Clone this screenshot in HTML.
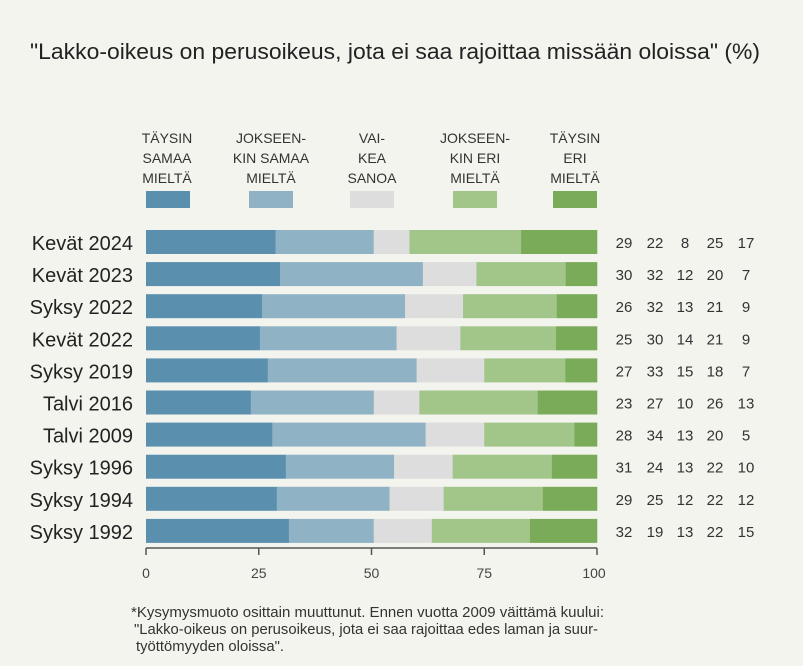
<!DOCTYPE html><html><head><meta charset="utf-8"><style>body{margin:0;background:#f4f4ef}svg{display:block;font-family:"Liberation Sans",sans-serif}</style></head><body>
<svg width="803" height="666" viewBox="0 0 803 666">
<rect width="803" height="666" fill="#f4f4ef"/>
<text x="30" y="59" font-size="22" textLength="730" lengthAdjust="spacingAndGlyphs" fill="#222">"Lakko-oikeus on perusoikeus, jota ei saa rajoittaa missään oloissa" (%)</text>
<g font-size="14" fill="#333" text-anchor="middle">
<text x="167" y="143">TÄYSIN</text><text x="167" y="163">SAMAA</text><text x="167" y="183">MIELTÄ</text>
<text x="271" y="143">JOKSEEN-</text><text x="271" y="163">KIN SAMAA</text><text x="271" y="183">MIELTÄ</text>
<text x="372" y="143">VAI-</text><text x="372" y="163">KEA</text><text x="372" y="183">SANOA</text>
<text x="475" y="143">JOKSEEN-</text><text x="475" y="163">KIN ERI</text><text x="475" y="183">MIELTÄ</text>
<text x="575" y="143">TÄYSIN</text><text x="575" y="163">ERI</text><text x="575" y="183">MIELTÄ</text>
</g>
<rect x="146" y="191" width="44" height="17" fill="#5a8fae"/>
<rect x="249" y="191" width="44" height="17" fill="#8fb2c4"/>
<rect x="350" y="191" width="44" height="17" fill="#dddddd"/>
<rect x="453" y="191" width="44" height="17" fill="#a2c58a"/>
<rect x="553" y="191" width="44" height="17" fill="#79ab58"/>
<g id="bars"></g>
<line x1="146" y1="548" x2="597" y2="548" stroke="#555" stroke-width="1.5"/>
<g stroke="#555" stroke-width="1.5"><line x1="146" y1="548" x2="146" y2="555"/><line x1="258.75" y1="548" x2="258.75" y2="555"/><line x1="371.5" y1="548" x2="371.5" y2="555"/><line x1="484.25" y1="548" x2="484.25" y2="555"/><line x1="597" y1="548" x2="597" y2="555"/></g>
<g font-size="14" fill="#444" text-anchor="middle"><text x="146" y="578">0</text><text x="258.75" y="578">25</text><text x="371.5" y="578">50</text><text x="484.25" y="578">75</text><text x="594" y="578">100</text></g>
<g font-size="14.5" fill="#333"><text x="131" y="617" textLength="473" lengthAdjust="spacingAndGlyphs">*Kysymysmuoto osittain muuttunut. Ennen vuotta 2009 väittämä kuului:</text><text x="134" y="634" textLength="464" lengthAdjust="spacingAndGlyphs">"Lakko-oikeus on perusoikeus, jota ei saa rajoittaa edes laman ja suur-</text><text x="136" y="651" textLength="148" lengthAdjust="spacingAndGlyphs">työttömyyden oloissa".</text></g>
</svg>
<script>
const d=[["Kevät 2024",[29,22,8,25,17]],["Kevät 2023",[30,32,12,20,7]],["Syksy 2022",[26,32,13,21,9]],["Kevät 2022",[25,30,14,21,9]],["Syksy 2019",[27,33,15,18,7]],["Talvi 2016",[23,27,10,26,13]],["Talvi 2009",[28,34,13,20,5]],["Syksy 1996",[31,24,13,22,10]],["Syksy 1994",[29,25,12,22,12]],["Syksy 1992",[32,19,13,22,15]]];
const c=["#5a8fae","#8fb2c4","#dddddd","#a2c58a","#79ab58"],nx=[624,655,685,715,746];
let s="";d.forEach((r,i)=>{const y=230+i*32.1;const sum=r[1].reduce((a,b)=>a+b,0);let x=146;
r[1].forEach((v,j)=>{const w=v/sum*451;s+=`<rect x="${x}" y="${y}" width="${w+0.3}" height="24" fill="${c[j]}"/>`;x+=w;s+=`<text x="${nx[j]}" y="${y+18}" font-size="15" fill="#333" text-anchor="middle">${v}</text>`});
s+=`<text x="133" y="${y+20}" font-size="20" fill="#222" text-anchor="end">${r[0]}</text>`;});
document.getElementById("bars").innerHTML=s;
</script>
</body></html>
